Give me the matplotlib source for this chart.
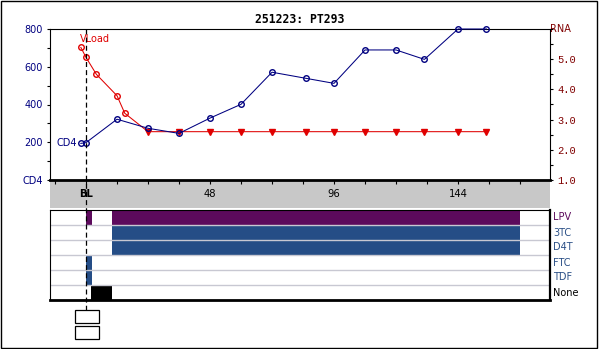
import matplotlib
matplotlib.use("Agg")
import matplotlib.pyplot as plt
from matplotlib.patches import Rectangle
from matplotlib.lines import Line2D
from matplotlib.ticker import MultipleLocator, FixedLocator
import matplotlib.transforms as mtransforms

# ---- data -------------------------------------------------------------
title = "251223: PT293"

cd4_weeks = [-2, 0, 12, 24, 36, 48, 60, 72, 85, 96, 108, 120, 131, 144, 155]
cd4_values = [194, 198, 322, 274, 247, 328, 401, 571, 539, 512, 689, 689, 639, 800, 800]

vl_weeks = [-2, 0, 4, 12, 15, 24, 36, 48, 60, 72, 85, 96, 108, 120, 131, 144, 155]
vl_values = [5.39, 5.06, 4.50, 3.79, 3.21, 2.6, 2.6, 2.6, 2.6, 2.6, 2.6, 2.6,
             2.6, 2.6, 2.6, 2.6, 2.6]
vl_below_limit = [False, False, False, False, False, True, True, True, True,
                  True, True, True, True, True, True, True, True]

x_tick_weeks = list(range(-12, 169, 12))
x_label_weeks = [0, 48, 96, 144]
x_labels = ["BL", "48", "96", "144"]

cd4_ticks = [0, 200, 400, 600, 800]
cd4_tick_labels = ["CD4", "200", "400", "600", "800"]
rna_ticks = [1, 2, 3, 4, 5, 6]
rna_tick_labels = ["1.0", "2.0", "3.0", "4.0", "5.0", ""]

drugs = ["LPV", "3TC", "D4T", "FTC", "TDF", "None"]
drug_periods = {
    "LPV": [(0, 2.3), (10, 168)],
    "3TC": [(10, 168)],
    "D4T": [(10, 168)],
    "FTC": [(0, 2.3)],
    "TDF": [(0, 2.3)],
    "None": [(2, 10)],
}
drug_colors = {
    "LPV": "#5c0a5c", "3TC": "#254d86", "D4T": "#254d86",
    "FTC": "#254d86", "TDF": "#254d86", "None": "#000000",
}
drug_label_colors = {
    "LPV": "#5c0a5c", "3TC": "#2a4f86", "D4T": "#2a4f86",
    "FTC": "#2a4f86", "TDF": "#2a4f86", "None": "#000000",
}

# ---- layout helpers ----------------------------------------------------
W, H = 600, 349
def fx(x):
    return x / W
def fy(y):
    return 1 - y / H
def box(x0, y0, x1, y1):
    return [fx(x0), fy(y1), fx(x1) - fx(x0), fy(y0) - fy(y1)]

XLIM = (-13.94, 179.6)
NAVY = "#000080"
DARKRED = "#800000"
RED = "#e00000"

fig = plt.figure(figsize=(W / 100, H / 100), dpi=100)
fig.patch.set_facecolor("white")

# outer frame
fig.patches.append(Rectangle((fx(0.5), fy(347.5)), fx(597) - fx(0.5), fy(0.5) - fy(347.5),
                             transform=fig.transFigure, fill=False, edgecolor="black",
                             linewidth=1))

fig.text(fx(300), fy(19.5), title, ha="center", va="center",
         family="DejaVu Sans Mono", fontweight="bold", fontsize=8.3)

# ---- grey time band ------------------------------------------------------
band = fig.add_axes(box(50, 180, 550, 208))
band.set_facecolor("#c8c8c8")
band.set_xlim(*XLIM)
band.set_ylim(0, 1)
for s in band.spines.values():
    s.set_visible(False)
band.set_yticks([])
band.xaxis.set_major_locator(FixedLocator(x_tick_weeks))
band.tick_params(axis="x", top=True, bottom=False, direction="in", length=3,
                 width=0.8, labelbottom=False, labeltop=False, color="black")
for wk, lab in zip(x_label_weeks, x_labels):
    band.text(wk, 0.5, lab, ha="center", va="center", fontsize=7.2,
              fontweight="bold" if lab == "BL" else "normal", color="black")

# ---- main axes: CD4 and viral load ---------------------------------------
ax = fig.add_axes(box(50, 29, 550, 180))
ax.set_zorder(3)
ax.set_xlim(*XLIM)
ax.set_ylim(0, 800)
ax.set_xticks([])
ax.yaxis.set_major_locator(FixedLocator(cd4_ticks))
ax.set_yticklabels(cd4_tick_labels)
ax.yaxis.set_minor_locator(MultipleLocator(100))
ax.tick_params(axis="y", which="both", direction="out", length=2, width=0.8,
               pad=3, labelsize=7, labelcolor=NAVY, color="black")
for name, s in ax.spines.items():
    s.set_color("black")
    s.set_linewidth(0.8)
ax.spines["bottom"].set_linewidth(2)

ax2 = ax.twinx()
ax2.set_zorder(4)
ax2.patch.set_visible(False)
ax2.set_ylim(1, 6)
ax2.yaxis.set_major_locator(FixedLocator(rna_ticks))
ax2.set_yticklabels(rna_tick_labels)
ax2.yaxis.set_minor_locator(MultipleLocator(0.5))
ax2.tick_params(axis="y", which="both", direction="out", length=2, width=0.8,
                pad=3, labelsize=7.5, labelcolor=DARKRED, color="black")
for lab in ax2.get_yticklabels():
    lab.set_family("Liberation Mono")
for s in ax2.spines.values():
    s.set_visible(False)
fig.text(fx(550), fy(29), "RNA", ha="left", va="center", fontsize=7, color=DARKRED)

# viral load (right axis)
ax2.plot(vl_weeks, vl_values, color=RED, lw=0.75, zorder=2)
det_x = [w for w, b in zip(vl_weeks, vl_below_limit) if not b]
det_y = [v for v, b in zip(vl_values, vl_below_limit) if not b]
low_x = [w for w, b in zip(vl_weeks, vl_below_limit) if b]
low_y = [v for v, b in zip(vl_values, vl_below_limit) if b]
ax2.plot(det_x, det_y, ls="none", marker="o", ms=4, mfc="none", mec=RED, mew=1)
ax2.plot(low_x, low_y, ls="none", marker="v", ms=4.4, color=RED, mec=RED)
ax2.annotate("VLoad", xy=(vl_weeks[0], vl_values[0]), xytext=(-1, 8),
             textcoords="offset pixels", ha="left", va="center", fontsize=7,
             color=RED)

# CD4 (left axis), drawn on the twin so it sits above the viral load line
cd4_to_rna = lambda v: 1 + v * 5 / 800
cd4_line = [cd4_to_rna(v) for v in cd4_values]
ax2.plot(cd4_weeks, cd4_line, color=NAVY, lw=0.75, marker="o", ms=4,
         mfc="none", mec=NAVY, mew=1, clip_on=False, zorder=3)
ax2.annotate("CD4", xy=(cd4_weeks[0], cd4_line[0]), xytext=(-4, 0),
             textcoords="offset pixels", ha="right", va="center", fontsize=7,
             color=NAVY)

# ---- drug panel ------------------------------------------------------------
dp = fig.add_axes(box(50, 210, 550, 300))
dp.set_xlim(*XLIM)
dp.set_ylim(len(drugs), 0)
dp.set_xticks([])
dp.set_yticks([])
for i, d in enumerate(drugs):
    for start, end in drug_periods[d]:
        dp.barh(i + 0.5, end - start, left=start, height=1.0,
                color=drug_colors[d], edgecolor="none", zorder=1)
    dp.text(1.006, 1 - (i + 0.5) / len(drugs), d, transform=dp.transAxes,
            ha="left", va="center", fontsize=7, color=drug_label_colors[d])
for i in range(1, len(drugs)):
    dp.axhline(i, color="#c8c8d2", lw=1, zorder=2)
for s in dp.spines.values():
    s.set_color("black")
    s.set_linewidth(0.8)
dp.spines["bottom"].set_linewidth(2)
dp.spines["right"].set_linewidth(1.6)

# ---- baseline marker line and boxes ---------------------------------------
trans = mtransforms.blended_transform_factory(ax.transData, fig.transFigure)
fig.lines.append(Line2D([0, 0], [fy(29), fy(309.5)], transform=trans,
                        color="black", lw=0.9, ls=(0, (4, 2.5)), zorder=10))
for y0, y1 in [(309.5, 322.5), (325.5, 338.5)]:
    fig.patches.append(Rectangle((fx(74.5), fy(y1)), fx(98.5) - fx(74.5), fy(y0) - fy(y1),
                                 transform=fig.transFigure, facecolor="white",
                                 edgecolor="black", linewidth=0.9, zorder=11))

fig.savefig("out.png", dpi=100)
